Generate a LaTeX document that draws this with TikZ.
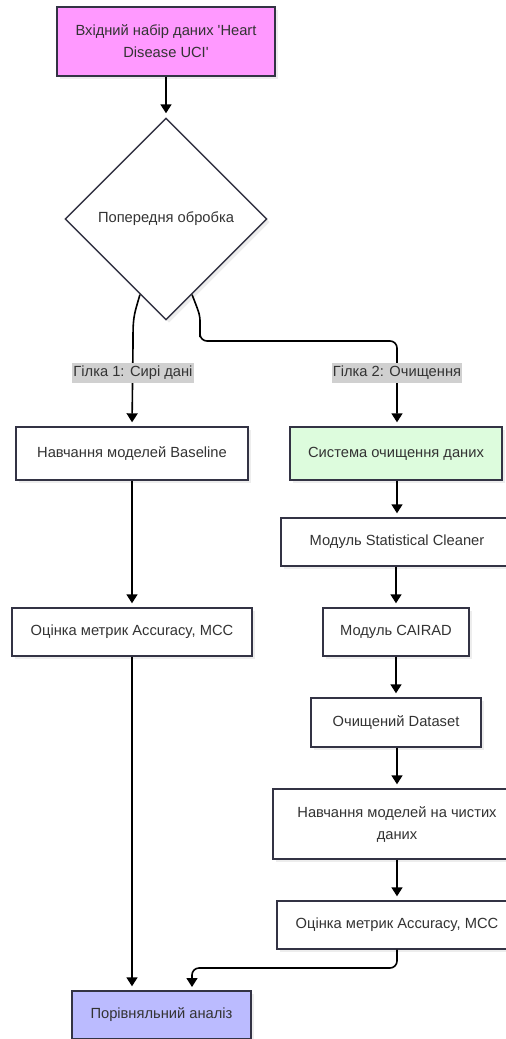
\documentclass[tikz,border=0pt]{standalone}
\usepackage{fontspec}
\setmainfont{Liberation Sans}
\usetikzlibrary{arrows.meta,shapes.geometric,shadows}
\definecolor{edge}{RGB}{51,51,68}
\definecolor{ink}{RGB}{51,51,51}
\definecolor{pinkfill}{RGB}{255,153,255}
\definecolor{greenfill}{RGB}{221,252,221}
\definecolor{bluefill}{RGB}{187,187,255}
\definecolor{labelfill}{RGB}{208,208,208}
\tikzset{
  x=1pt, y=1pt,
  box/.style={draw=edge, line width=1.4pt, fill=white, text=ink, align=center,
    inner sep=0pt, font=\fontsize{14.7}{22}\selectfont,
    drop shadow={shadow xshift=3pt, shadow yshift=-3pt, fill=black, opacity=0.07}},
  decide/.style={box, diamond, aspect=1, minimum width=202pt, minimum height=202pt},
  flow/.style={draw=black, line width=1.6pt, -{Triangle[length=9pt,width=11pt]}, shorten >=4pt},
  branchlabel/.style={fill=labelfill, text=ink, inner xsep=1pt, inner ysep=3pt,
    font=\fontsize{14.7}{16}\selectfont}
}
\begin{document}
\begin{tikzpicture}
\useasboundingbox (0,0) rectangle (506,-1039);
\clip (0,0) rectangle (506,-1039);

% input and preprocessing
\node[box, fill=pinkfill, minimum width=218pt, minimum height=69pt] (input) at (166,-41.5)
  {Вхідний набір даних \textquotesingle Heart\\Disease UCI\textquotesingle};
\node[decide] (pre) at (166,-219) {Попередня обробка};

% branch 1: raw data
\node[box, minimum width=232pt, minimum height=53pt] (base) at (132,-453.5) {Навчання моделей Baseline};
\node[box, minimum width=240pt, minimum height=48pt] (eval1) at (132,-632) {Оцінка метрик Accuracy, MCC};

% branch 2: cleaning
\node[box, fill=greenfill, minimum width=212pt, minimum height=53pt] (clean) at (396,-453.5) {Система очищення даних};
\node[box, minimum width=232pt, minimum height=48pt] (stat) at (397,-542) {Модуль Statistical Cleaner};
\node[box, minimum width=146pt, minimum height=48pt] (cairad) at (396,-632) {Модуль CAIRAD};
\node[box, minimum width=170pt, minimum height=49pt] (dataset) at (396,-722.5) {Очищений Dataset};
\node[box, minimum width=248pt, minimum height=70pt] (train2) at (397,-824) {Навчання моделей на чистих\\даних};
\node[box, minimum width=240pt, minimum height=48pt] (eval2) at (397,-925) {Оцінка метрик Accuracy, MCC};

% comparison
\node[box, fill=bluefill, minimum width=179pt, minimum height=48pt] (final) at (161.5,-1015) {Порівняльний аналіз};

% connectors
\draw[flow] (input) -- (pre);
\draw[flow] (pre.251) .. controls (133,-318) .. (133,-345) -- (base.north);
\draw[flow, rounded corners=7pt] (pre.289) .. controls (200,-315) .. (200,-330) -- (200,-341) -- (397,-341) -- (clean.north -| 397,0);
\node[branchlabel] (lab1) at (133,-373) {Гілка 1: Сирі дані};
\node[branchlabel] (lab2) at (397,-373) {Гілка 2: Очищення};

\draw[flow] (base) -- (eval1);
\draw[flow] (clean.south -| stat.north) -- (stat.north);
\draw[flow] (stat.south -| cairad.north) -- (cairad.north);
\draw[flow] (cairad) -- (dataset);
\draw[flow] (dataset.south -| train2.north) -- (train2.north);
\draw[flow] (train2) -- (eval2);

\draw[flow] (eval1.south) -- (eval1.south |- final.north);
\draw[flow, rounded corners=7pt] (eval2.south) -- (397,-968) -- (192,-968) -- (192,-991);
\end{tikzpicture}
\end{document}
